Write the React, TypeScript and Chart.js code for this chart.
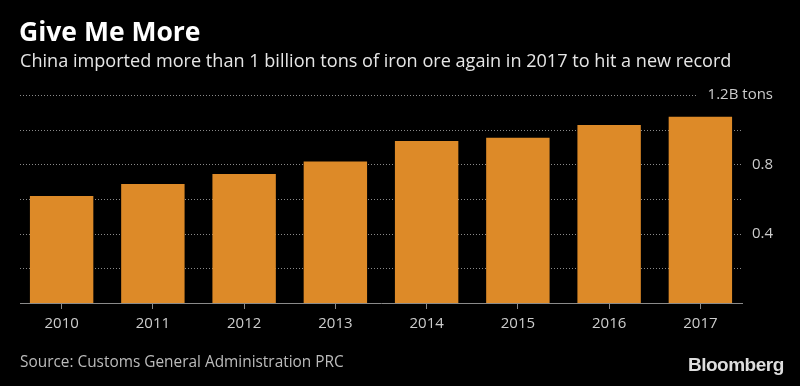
import React, { useEffect, useRef } from "react";
import { Chart, registerables } from "chart.js";

Chart.register(...registerables);

const YEARS = ["2010", "2011", "2012", "2013", "2014", "2015", "2016", "2017"];
const IMPORTS = [0.618, 0.686, 0.744, 0.817, 0.934, 0.953, 1.027, 1.075];
const GRID_VALUES = [0.2, 0.4, 0.6, 0.8, 1.0, 1.2];
const Y_TICK_VALUES = [0.4, 0.8, 1.2];
const Y_TICK_LABELS = ["0.4", "0.8", "1.2B tons"];

const TITLE = "Give Me More";
const SUBTITLE = "China imported more than 1 billion tons of iron ore again in 2017 to hit a new record";
const SOURCE = "Source: Customs General Administration PRC";

const FONT = '"Open Sans", "Noto Sans", sans-serif';
const BAR_COLOR = "#DD8A28";

const overlay = {
  id: "overlay",
  beforeDatasetsDraw(chart: any) {
    const { ctx, chartArea, scales } = chart;
    const y = scales.y;
    ctx.save();
    ctx.font = `15px ${FONT}`;
    const labelRight = 773;
    ctx.strokeStyle = "#8a8a8a";
    ctx.lineWidth = 1;
    ctx.setLineDash([1, 2]);
    GRID_VALUES.forEach((v) => {
      const py = Math.round(y.getPixelForValue(v)) + 0.5;
      let end = chartArea.right - 4;
      const idx = Y_TICK_VALUES.findIndex((t) => Math.abs(t - v) < 1e-9);
      if (idx >= 0) {
        const w = ctx.measureText(Y_TICK_LABELS[idx]).width;
        end = Math.min(end, labelRight - w - 10);
      }
      ctx.beginPath();
      ctx.moveTo(chartArea.left + 4, py);
      ctx.lineTo(end, py);
      ctx.stroke();
    });
    ctx.restore();
  },
  afterDatasetsDraw(chart: any) {
    const { ctx, chartArea, scales } = chart;
    const y = scales.y;
    ctx.save();
    ctx.strokeStyle = "#8a8a8a";
    ctx.lineWidth = 1;
    const by = Math.round(y.getPixelForValue(0)) + 0.5;
    ctx.beginPath();
    ctx.moveTo(chartArea.left + 4, by);
    ctx.lineTo(chartArea.right - 3, by);
    ctx.stroke();
    ctx.fillStyle = "#cccccc";
    ctx.font = `15px ${FONT}`;
    ctx.textAlign = "right";
    ctx.textBaseline = "middle";
    Y_TICK_VALUES.forEach((v, i) => {
      ctx.fillText(Y_TICK_LABELS[i], 773, y.getPixelForValue(v));
    });
    ctx.restore();
  },
};

export default function App() {
  const canvasRef = useRef<HTMLCanvasElement | null>(null);

  useEffect(() => {
    document.body.style.background = "#000";
    const canvas = canvasRef.current;
    if (!canvas) return;
    const chart = new Chart(canvas, {
      type: "bar",
      data: {
        labels: YEARS,
        datasets: [
          {
            data: IMPORTS,
            backgroundColor: BAR_COLOR,
            borderWidth: 0,
            categoryPercentage: 1,
            barPercentage: 0.695,
          },
        ],
      },
      options: {
        animation: false,
        responsive: false,
        maintainAspectRatio: false,
        layout: { padding: { top: 95, bottom: 47, left: 16, right: 54 } },
        plugins: {
          legend: { display: false },
          tooltip: { enabled: false },
          title: { display: false },
        },
        scales: {
          x: {
            grid: {
              display: true,
              drawOnChartArea: false,
              drawTicks: true,
              tickLength: 6,
              color: "#8a8a8a",
              offset: false,
            },
            border: { display: false },
            ticks: {
              color: "#cccccc",
              font: { size: 15, family: FONT },
              padding: 6,
            },
          },
          y: {
            display: false,
            min: 0,
            max: 1.2,
          },
        },
      },
      plugins: [overlay],
    });
    return () => chart.destroy();
  }, []);

  return (
    <div
      style={{
        position: "absolute",
        left: 0,
        top: 0,
        width: 800,
        height: 386,
        background: "#000",
        overflow: "hidden",
        fontFamily: FONT,
      }}
    >
      <canvas
        ref={canvasRef}
        width={800}
        height={386}
        style={{ position: "absolute", left: 0, top: 0, width: 800, height: 386 }}
      />
      <div
        style={{
          position: "absolute",
          left: 19,
          top: 14,
          fontSize: 26.5,
          fontWeight: 700,
          color: "#ffffff",
          lineHeight: "34px",
          whiteSpace: "nowrap",
        }}
      >
        {TITLE}
      </div>
      <div
        style={{
          position: "absolute",
          left: 20,
          top: 48,
          fontSize: 18.1,
          color: "#e6e6e6",
          lineHeight: "24px",
          whiteSpace: "nowrap",
        }}
      >
        {SUBTITLE}
      </div>
      <div
        style={{
          position: "absolute",
          left: 20,
          top: 352,
          fontSize: 15.4,
          color: "#bbbbbb",
          lineHeight: "20px",
          whiteSpace: "nowrap",
        }}
      >
        {SOURCE}
      </div>
      <div
        style={{
          position: "absolute",
          left: 688,
          top: 352,
          fontSize: 19,
          fontWeight: 700,
          color: "#dddddd",
          lineHeight: "26px",
          letterSpacing: -0.5,
          whiteSpace: "nowrap",
          fontFamily: '"Liberation Sans", Arial, sans-serif',
        }}
      >
        Bloomberg
      </div>
    </div>
  );
}
